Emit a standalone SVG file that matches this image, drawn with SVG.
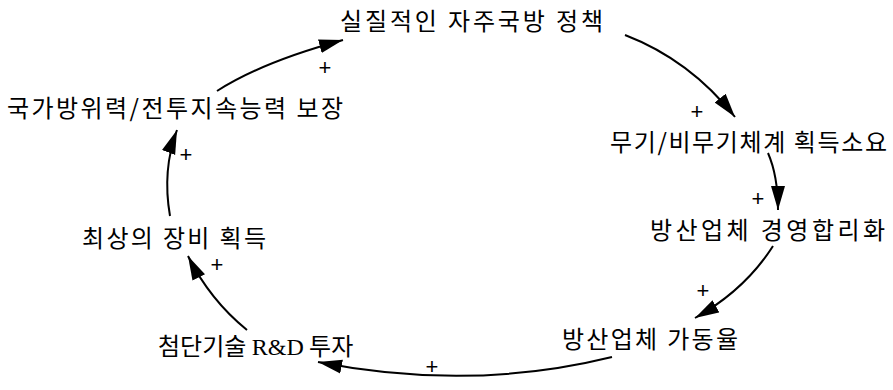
<svg xmlns="http://www.w3.org/2000/svg" width="893" height="390" viewBox="0 0 893 390">
<style>
.lbl{font-family:"Noto Sans CJK KR","Noto Sans",sans-serif;font-size:24px;fill:#000}
.rd{font-family:"Liberation Serif",serif}
.pl{font-family:"Liberation Sans",sans-serif;font-size:22px;fill:#000;text-anchor:middle}
.arr{fill:none;stroke:#000;stroke-width:2;marker-end:url(#ah)}
</style>
<defs>
<marker id="ah" markerUnits="userSpaceOnUse" markerWidth="26" markerHeight="16" refX="24" refY="8" orient="auto">
<path d="M0,1 L24,8 L0,15 Z" fill="#000"/>
</marker>
</defs>
<rect width="893" height="390" fill="#fff"/>
<g id="n1"><text class="lbl" x="340" y="30" textLength="263" lengthAdjust="spacing">실질적인 자주국방 정책</text></g>
<g id="n2"><text class="lbl" x="610" y="151" textLength="277" lengthAdjust="spacing">무기/비무기체계 획득소요</text></g>
<g id="n3"><text class="lbl" x="650" y="239" textLength="235" lengthAdjust="spacing">방산업체 경영합리화</text></g>
<g id="n4"><text class="lbl" x="562" y="348" textLength="176" lengthAdjust="spacing">방산업체 가동율</text></g>
<g id="n5"><text class="lbl" x="158" y="355">첨단기술 <tspan class="rd">R&amp;D</tspan> 투자</text></g>
<g id="n6"><text class="lbl" x="82" y="247" textLength="184" lengthAdjust="spacing">최상의 장비 획득</text></g>
<g id="n7"><text class="lbl" x="7" y="117" textLength="336" lengthAdjust="spacing">국가방위력/전투지속능력 보장</text></g>
<g id="connectors">
<path class="arr" d="M217 91 Q262 62 343 40"/>
<path class="arr" d="M625 35 Q690 60 735 117"/>
<path class="arr" d="M768 153 Q778 176 778 210"/>
<path class="arr" d="M773 246 Q745 290 695 318"/>
<path class="arr" d="M612 357 Q470 392 318 362"/>
<path class="arr" d="M247 330 Q210 300 188 256"/>
<path class="arr" d="M170 216 Q162 170 177 130"/>
<text class="pl" x="325" y="75">+</text>
<text class="pl" x="697" y="119">+</text>
<text class="pl" x="758" y="206">+</text>
<text class="pl" x="703" y="298">+</text>
<text class="pl" x="432" y="374">+</text>
<text class="pl" x="217" y="272">+</text>
<text class="pl" x="186" y="162">+</text>
</g>
</svg>
